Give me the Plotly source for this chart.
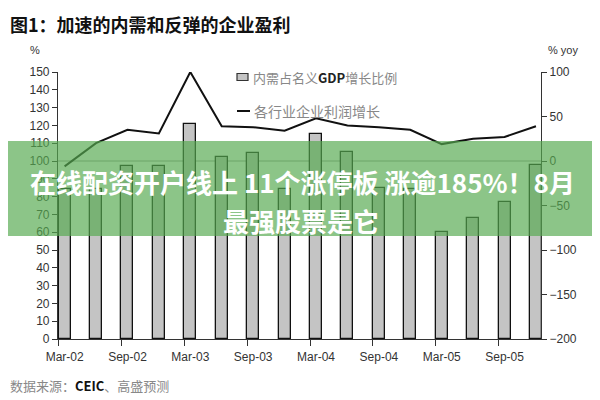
import plotly.graph_objects as go

# ---- data ----
quarters = ["Mar-02", "Jun-02", "Sep-02", "Dec-02", "Mar-03", "Jun-03", "Sep-03", "Dec-03",
            "Mar-04", "Jun-04", "Sep-04", "Dec-04", "Mar-05", "Jun-05", "Sep-05", "Dec-05"]
domestic_share = [84, 84, 97, 97, 121, 102, 104.5, 84, 115, 105, 85, 84, 60, 68, 77, 98]
profit_growth = [-6, 20, 35, 31, 100, 39, 38, 34, 48, 40, 38, 35, 19, 25, 27, 39]
tick_labels = ["Mar-02", "Sep-02", "Mar-03", "Sep-03", "Mar-04", "Sep-04", "Mar-05", "Sep-05"]
left_ticks = list(range(0, 151, 10))
right_ticks = [-200, -150, -100, -50, 0, 50, 100]

title_text = "图1：加速的内需和反弹的企业盈利"
legend_bar = "内需占名义<b><span style='color:#222'>GDP</span></b>增长比例"
legend_line = "各行业企业利润增长"
source_text = "数据来源：<b><span style='color:#111'>CEIC</span></b>、高盛预测"
banner_1 = "在线配资开户线上 11个涨停板 涨逾185%！8月"
banner_2 = "最强股票是它"

# ---- layout geometry (pixels in the 600x400 window; page body has an 8px margin) ----
OFF = 8
W, H = 600 - OFF, 400 - OFF
L, R, T, B = 58, 541, 72, 339   # plot area in window pixels
PW, PH = R - L, B - T

def px(x):
    return (x - L) / PW

def py(y):
    return (B - y) / PH

bar_w = 0.38
xi = list(range(len(quarters)))
bar_centers = [i + bar_w / 2 for i in xi]

fig = go.Figure()
fig.add_trace(go.Bar(
    x=bar_centers, y=domestic_share, width=bar_w,
    marker=dict(color="#c4c4c4", line=dict(color="#111", width=1.3)),
    name="内需占名义GDP增长比例", showlegend=False, yaxis="y"))
fig.add_trace(go.Scatter(
    x=bar_centers, y=profit_growth, mode="lines",
    line=dict(color="#111", width=2), name=legend_line,
    showlegend=False, yaxis="y2"))

tick_font = dict(family="Liberation Sans, Arial, sans-serif", size=12, color="#333")
fig.update_layout(
    width=W, height=H,
    margin=dict(l=L - OFF, r=600 - R, t=T - OFF, b=400 - B),
    paper_bgcolor="white", plot_bgcolor="white",
    bargap=0,
    xaxis=dict(range=[-0.02, 15.35], tickvals=[xi[k] for k in range(0, 16, 2)],
               ticktext=tick_labels, ticks="outside", ticklen=6, tickcolor="#333",
               showline=True, linecolor="#333", linewidth=1.2, showgrid=False,
               zeroline=False, tickfont=tick_font, ticklabelshift=6),
    yaxis=dict(range=[0, 150], tickvals=left_ticks, ticks="outside", ticklen=5,
               tickcolor="#333", showline=True, linecolor="#333", linewidth=1.2,
               showgrid=False, zeroline=False, tickfont=tick_font),
    yaxis2=dict(range=[-200, 100], tickvals=right_ticks, overlaying="y", side="right",
                ticks="outside", ticklen=5, tickcolor="#333", showline=True,
                linecolor="#333", linewidth=1.2, showgrid=False, zeroline=False,
                tickfont=tick_font),
    showlegend=False,
)

shapes = []
# zero line of right axis
shapes.append(dict(type="line", xref="paper", yref="y2", x0=0, x1=1, y0=0, y1=0,
                   line=dict(color="#999", width=1), layer="below"))
# legend symbols
shapes.append(dict(type="rect", xref="paper", yref="paper", x0=px(237), x1=px(248),
                   y0=py(80.5), y1=py(73.5), fillcolor="#c4c4c4",
                   line=dict(color="#333", width=1.2)))
shapes.append(dict(type="line", xref="paper", yref="paper", x0=px(237), x1=px(250),
                   y0=py(111), y1=py(111), line=dict(color="#111", width=2)))
# banner overlay
shapes.append(dict(type="rect", xref="paper", yref="paper", x0=px(-2), x1=px(602),
                   y0=py(236), y1=py(141), fillcolor="rgba(85,170,80,0.68)",
                   line=dict(width=0), layer="above"))

cjk = "Noto Sans CJK SC, sans-serif"
annotations = [
    dict(text="<b>" + title_text + "</b>", x=px(8), y=py(8.5), xanchor="left", yanchor="top",
         font=dict(family=cjk, size=18, color="#111")),
    dict(text="%", x=px(35), y=py(50), xanchor="center", yanchor="middle",
         font=dict(family="Liberation Sans, Arial", size=11, color="#333")),
    dict(text="% yoy", x=px(563), y=py(50), xanchor="center", yanchor="middle",
         font=dict(family="Liberation Sans, Arial", size=11, color="#333")),
    dict(text=legend_bar, x=px(251), y=py(77), xanchor="left", yanchor="middle",
         font=dict(family=cjk, size=13, color="#888")),
    dict(text=legend_line, x=px(252), y=py(111), xanchor="left", yanchor="middle",
         font=dict(family=cjk, size=14, color="#888")),
    dict(text=source_text, x=px(8), y=py(385), xanchor="left", yanchor="middle",
         font=dict(family=cjk, size=13, color="#888")),
    dict(text="<b>" + banner_1 + "</b>", x=px(302), y=py(181), xanchor="center", yanchor="middle",
         font=dict(family=cjk, size=26, color="white")),
    dict(text="<b>" + banner_2 + "</b>", x=px(301), y=py(220), xanchor="center", yanchor="middle",
         font=dict(family=cjk, size=26, color="white")),
]
for a in annotations:
    a.update(xref="paper", yref="paper", showarrow=False)

fig.update_layout(shapes=shapes, annotations=annotations)
fig.write_html("out.html")
